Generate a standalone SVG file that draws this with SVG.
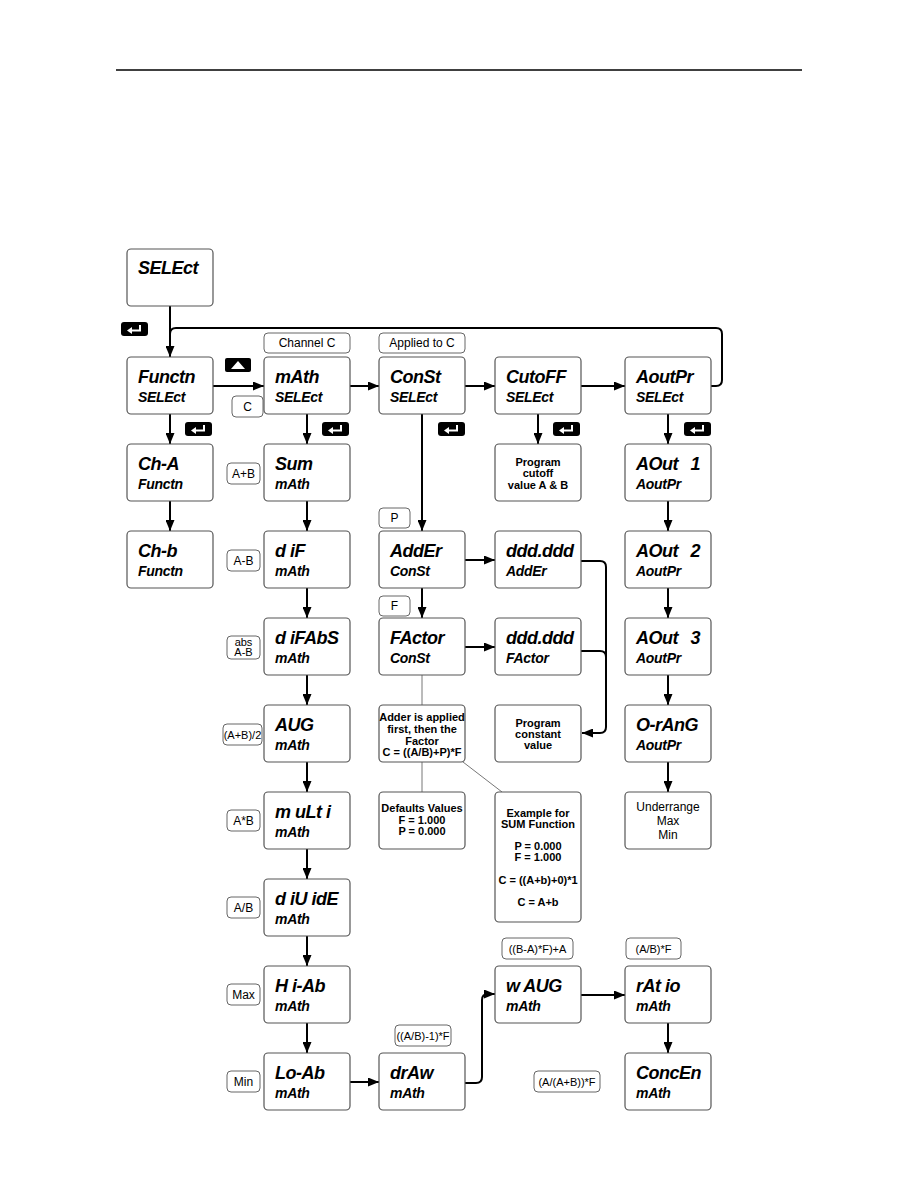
<svg xmlns="http://www.w3.org/2000/svg" xmlns:xlink="http://www.w3.org/1999/xlink" width="918" height="1188" viewBox="0 0 918 1188">
<style>
.box{fill:#fff;stroke:#555;stroke-width:1.2}
.pill{fill:#fff;stroke:#666;stroke-width:1}
.d1{font-family:"Liberation Sans",Arial,sans-serif;font-weight:bold;font-style:italic;font-size:18px;letter-spacing:-0.5px;fill:#000}
.d2{font-family:"Liberation Sans",Arial,sans-serif;font-weight:bold;font-style:italic;font-size:14px;letter-spacing:-0.3px;fill:#000}
.info{font-family:"Liberation Sans",Arial,sans-serif;font-weight:bold;font-size:11px;text-anchor:middle;fill:#000}
.pt{font-family:"Liberation Sans",Arial,sans-serif;font-size:12px;text-anchor:middle;fill:#000}
.ps{font-family:"Liberation Sans",Arial,sans-serif;font-size:11px;text-anchor:middle;fill:#000}
.conn{stroke:#000;stroke-width:2;fill:none}
.thin{stroke:#777;stroke-width:1;fill:none}
</style>
<defs>
<marker id="ah" markerUnits="userSpaceOnUse" markerWidth="11" markerHeight="9" refX="11" refY="4.5" orient="auto">
<path d="M0,0 L11,4.5 L0,9 z" fill="#000"/>
</marker>
<g id="enter"><rect width="27" height="14" rx="3" fill="#000"/><path d="M19,3 V8.5 H10" stroke="#fff" stroke-width="2" fill="none"/><path d="M6,8.5 L11,5 L11,12 z" fill="#fff"/></g>
<g id="up"><rect width="26" height="14" rx="2" fill="#000"/><path d="M13,3 L20,11 L6,11 z" fill="#fff"/></g>
</defs>
<rect width="918" height="1188" fill="#fff"/>
<line x1="116" y1="70" x2="802" y2="70" stroke="#000" stroke-width="1.5"/>

<g id="connectors">
<path class="conn" d="M170,306 V357" marker-end="url(#ah)"/>
<path class="conn" d="M711,386 H716 Q722,386 722,380 V334 Q722,328 716,328 H176 Q170,328 170,334"/>
<path class="conn" d="M213,386 H264" marker-end="url(#ah)"/>
<path class="conn" d="M350,386 H379" marker-end="url(#ah)"/>
<path class="conn" d="M465,386 H495" marker-end="url(#ah)"/>
<path class="conn" d="M581,386 H625" marker-end="url(#ah)"/>
<path class="conn" d="M170,414 V444" marker-end="url(#ah)"/>
<path class="conn" d="M170,501 V531" marker-end="url(#ah)"/>
<path class="conn" d="M307,414 V444" marker-end="url(#ah)"/>
<path class="conn" d="M307,501 V531" marker-end="url(#ah)"/>
<path class="conn" d="M307,588 V618" marker-end="url(#ah)"/>
<path class="conn" d="M307,675 V705" marker-end="url(#ah)"/>
<path class="conn" d="M307,762 V792" marker-end="url(#ah)"/>
<path class="conn" d="M307,849 V879" marker-end="url(#ah)"/>
<path class="conn" d="M307,936 V966" marker-end="url(#ah)"/>
<path class="conn" d="M307,1023 V1053" marker-end="url(#ah)"/>
<path class="conn" d="M422,414 V531" marker-end="url(#ah)"/>
<path class="conn" d="M422,588 V618" marker-end="url(#ah)"/>
<path class="thin" d="M422,675 V705"/>
<path class="thin" d="M422,762 V792"/>
<path class="thin" d="M463,762 L502,792"/>
<path class="conn" d="M538,414 V444" marker-end="url(#ah)"/>
<path class="conn" d="M465,560 H495" marker-end="url(#ah)"/>
<path class="conn" d="M465,647 H495" marker-end="url(#ah)"/>
<path class="conn" d="M581,561 H600 Q606,561 606,567 V727 Q606,733 600,733 H582" marker-end="url(#ah)"/>
<path class="conn" d="M581,651 H600 Q606,651 606,657"/>
<path class="conn" d="M668,414 V444" marker-end="url(#ah)"/>
<path class="conn" d="M668,501 V531" marker-end="url(#ah)"/>
<path class="conn" d="M668,588 V618" marker-end="url(#ah)"/>
<path class="conn" d="M668,675 V705" marker-end="url(#ah)"/>
<path class="conn" d="M668,762 V792" marker-end="url(#ah)"/>
<path class="conn" d="M350,1082 H379" marker-end="url(#ah)"/>
<path class="conn" d="M465,1083 H476 Q482,1083 482,1077 V1000 Q482,994 488,994 H495" marker-end="url(#ah)"/>
<path class="conn" d="M581,995 H625" marker-end="url(#ah)"/>
<path class="conn" d="M668,1023 V1053" marker-end="url(#ah)"/>
</g>

<g id="keys">
<use xlink:href="#enter" x="121" y="322"/>
<use xlink:href="#enter" x="185" y="422"/>
<use xlink:href="#enter" x="322" y="422"/>
<use xlink:href="#enter" x="438" y="422"/>
<use xlink:href="#enter" x="553" y="422"/>
<use xlink:href="#enter" x="684" y="422"/>
<use xlink:href="#up" x="225" y="358"/>
</g>

<g id="n-select"><rect class="box" x="127" y="249" width="86" height="57" rx="4"/><text class="d1" x="138" y="274">SELEct</text></g>
<g id="n-functn"><rect class="box" x="127" y="357" width="86" height="57" rx="4"/><text class="d1" x="138" y="383">Functn</text><text class="d2" x="138" y="402">SELEct</text></g>
<g id="n-cha"><rect class="box" x="127" y="444" width="86" height="57" rx="4"/><text class="d1" x="138" y="470">Ch-A</text><text class="d2" x="138" y="489">Functn</text></g>
<g id="n-chb"><rect class="box" x="127" y="531" width="86" height="57" rx="4"/><text class="d1" x="138" y="557">Ch-b</text><text class="d2" x="138" y="576">Functn</text></g>

<g id="n-math"><rect class="box" x="264" y="357" width="86" height="57" rx="4"/><text class="d1" x="275" y="383">mAth</text><text class="d2" x="275" y="402">SELEct</text></g>
<g id="n-sum"><rect class="box" x="264" y="444" width="86" height="57" rx="4"/><text class="d1" x="275" y="470">Sum</text><text class="d2" x="275" y="489">mAth</text></g>
<g id="n-dif"><rect class="box" x="264" y="531" width="86" height="57" rx="4"/><text class="d1" x="275" y="557">d iF</text><text class="d2" x="275" y="576">mAth</text></g>
<g id="n-difabs"><rect class="box" x="264" y="618" width="86" height="57" rx="4"/><text class="d1" x="275" y="644">d iFAbS</text><text class="d2" x="275" y="663">mAth</text></g>
<g id="n-avg"><rect class="box" x="264" y="705" width="86" height="57" rx="4"/><text class="d1" x="275" y="731">AUG</text><text class="d2" x="275" y="750">mAth</text></g>
<g id="n-multi"><rect class="box" x="264" y="792" width="86" height="57" rx="4"/><text class="d1" x="275" y="818">m uLt i</text><text class="d2" x="275" y="837">mAth</text></g>
<g id="n-divide"><rect class="box" x="264" y="879" width="86" height="57" rx="4"/><text class="d1" x="275" y="905">d iU idE</text><text class="d2" x="275" y="924">mAth</text></g>
<g id="n-hiab"><rect class="box" x="264" y="966" width="86" height="57" rx="4"/><text class="d1" x="275" y="992">H i-Ab</text><text class="d2" x="275" y="1011">mAth</text></g>
<g id="n-loab"><rect class="box" x="264" y="1053" width="86" height="57" rx="4"/><text class="d1" x="275" y="1079">Lo-Ab</text><text class="d2" x="275" y="1098">mAth</text></g>

<g id="n-const"><rect class="box" x="379" y="357" width="86" height="57" rx="4"/><text class="d1" x="390" y="383">ConSt</text><text class="d2" x="390" y="402">SELEct</text></g>
<g id="n-adder"><rect class="box" x="379" y="531" width="86" height="57" rx="4"/><text class="d1" x="390" y="557">AddEr</text><text class="d2" x="390" y="576">ConSt</text></g>
<g id="n-factor"><rect class="box" x="379" y="618" width="86" height="57" rx="4"/><text class="d1" x="390" y="644">FActor</text><text class="d2" x="390" y="663">ConSt</text></g>
<g id="n-note"><rect class="box" x="379" y="705" width="86" height="57" rx="4"/><text class="info" x="422" y="721">Adder is applied</text><text class="info" x="422" y="733">first, then the</text><text class="info" x="422" y="745">Factor</text><text class="info" x="422" y="756">C = ((A/B)+P)*F</text></g>
<g id="n-defaults"><rect class="box" x="379" y="792" width="86" height="57" rx="4"/><text class="info" x="422" y="812">Defaults Values</text><text class="info" x="422" y="824">F = 1.000</text><text class="info" x="422" y="835">P = 0.000</text></g>
<g id="n-draw"><rect class="box" x="379" y="1053" width="86" height="57" rx="4"/><text class="d1" x="390" y="1079">drAw</text><text class="d2" x="390" y="1098">mAth</text></g>

<g id="n-cutoff"><rect class="box" x="495" y="357" width="86" height="57" rx="4"/><text class="d1" x="506" y="383">CutoFF</text><text class="d2" x="506" y="402">SELEct</text></g>
<g id="n-progcut"><rect class="box" x="495" y="444" width="86" height="57" rx="4"/><text class="info" x="538" y="466">Program</text><text class="info" x="538" y="477">cutoff</text><text class="info" x="538" y="489">value A &amp; B</text></g>
<g id="n-dddadd"><rect class="box" x="495" y="531" width="86" height="57" rx="4"/><text class="d1" x="506" y="557">ddd.ddd</text><text class="d2" x="506" y="576">AddEr</text></g>
<g id="n-dddfac"><rect class="box" x="495" y="618" width="86" height="57" rx="4"/><text class="d1" x="506" y="644">ddd.ddd</text><text class="d2" x="506" y="663">FActor</text></g>
<g id="n-progconst"><rect class="box" x="495" y="705" width="86" height="57" rx="4"/><text class="info" x="538" y="727">Program</text><text class="info" x="538" y="738">constant</text><text class="info" x="538" y="749">value</text></g>
<g id="n-example"><rect class="box" x="495" y="792" width="86" height="130" rx="4"/><text class="info" x="538" y="817">Example for</text><text class="info" x="538" y="828">SUM Function</text><text class="info" x="538" y="850">P = 0.000</text><text class="info" x="538" y="861">F = 1.000</text><text class="info" x="538" y="884">C = ((A+b)+0)*1</text><text class="info" x="538" y="906">C = A+b</text></g>
<g id="n-wavg"><rect class="box" x="495" y="966" width="86" height="57" rx="4"/><text class="d1" x="506" y="992">w AUG</text><text class="d2" x="506" y="1011">mAth</text></g>

<g id="n-aoutpr"><rect class="box" x="625" y="357" width="86" height="57" rx="4"/><text class="d1" x="636" y="383">AoutPr</text><text class="d2" x="636" y="402">SELEct</text></g>
<g id="n-aout1"><rect class="box" x="625" y="444" width="86" height="57" rx="4"/><text class="d1" x="636" y="470">AOut</text><text class="d1" x="700" y="470" text-anchor="end">1</text><text class="d2" x="636" y="489">AoutPr</text></g>
<g id="n-aout2"><rect class="box" x="625" y="531" width="86" height="57" rx="4"/><text class="d1" x="636" y="557">AOut</text><text class="d1" x="700" y="557" text-anchor="end">2</text><text class="d2" x="636" y="576">AoutPr</text></g>
<g id="n-aout3"><rect class="box" x="625" y="618" width="86" height="57" rx="4"/><text class="d1" x="636" y="644">AOut</text><text class="d1" x="700" y="644" text-anchor="end">3</text><text class="d2" x="636" y="663">AoutPr</text></g>
<g id="n-orang"><rect class="box" x="625" y="705" width="86" height="57" rx="4"/><text class="d1" x="636" y="731">O-rAnG</text><text class="d2" x="636" y="750">AoutPr</text></g>
<g id="n-under"><rect class="box" x="625" y="792" width="86" height="57" rx="4"/><text class="pt" x="668" y="811">Underrange</text><text class="pt" x="668" y="825">Max</text><text class="pt" x="668" y="839">Min</text></g>
<g id="n-ratio"><rect class="box" x="625" y="966" width="86" height="57" rx="4"/><text class="d1" x="636" y="992">rAt io</text><text class="d2" x="636" y="1011">mAth</text></g>
<g id="n-concen"><rect class="box" x="625" y="1053" width="86" height="57" rx="4"/><text class="d1" x="636" y="1079">ConcEn</text><text class="d2" x="636" y="1098">mAth</text></g>

<g id="labels">
<rect class="pill" x="264" y="333" width="86" height="20" rx="4"/><text class="pt" x="307" y="347">Channel C</text>
<rect class="pill" x="379" y="333" width="86" height="20" rx="4"/><text class="pt" x="422" y="347">Applied to C</text>
<rect class="pill" x="232" y="396" width="31" height="21" rx="4"/><text class="pt" x="247.5" y="411">C</text>
<rect class="pill" x="227" y="463" width="33" height="21" rx="4"/><text class="pt" x="243.5" y="478">A+B</text>
<rect class="pill" x="227" y="550" width="33" height="21" rx="4"/><text class="pt" x="243.5" y="565">A-B</text>
<rect class="pill" x="227" y="636" width="33" height="23" rx="4"/><text class="ps" x="243.5" y="646">abs</text><text class="ps" x="243.5" y="656">A-B</text>
<rect class="pill" x="223" y="724" width="39" height="21" rx="4"/><text class="ps" x="242.5" y="739">(A+B)/2</text>
<rect class="pill" x="227" y="810" width="33" height="21" rx="4"/><text class="pt" x="243.5" y="825">A*B</text>
<rect class="pill" x="227" y="897" width="33" height="21" rx="4"/><text class="pt" x="243.5" y="912">A/B</text>
<rect class="pill" x="227" y="984" width="33" height="21" rx="4"/><text class="pt" x="243.5" y="999">Max</text>
<rect class="pill" x="227" y="1071" width="33" height="21" rx="4"/><text class="pt" x="243.5" y="1086">Min</text>
<rect class="pill" x="379" y="508" width="31" height="20" rx="4"/><text class="pt" x="394.5" y="522">P</text>
<rect class="pill" x="379" y="596" width="31" height="20" rx="4"/><text class="pt" x="394.5" y="610">F</text>
<rect class="pill" x="395" y="1025" width="56" height="21" rx="4"/><text class="ps" x="423" y="1040">((A/B)-1)*F</text>
<rect class="pill" x="502" y="938" width="71" height="21" rx="4"/><text class="ps" x="537.5" y="953">((B-A)*F)+A</text>
<rect class="pill" x="626" y="938" width="55" height="21" rx="4"/><text class="ps" x="653.5" y="953">(A/B)*F</text>
<rect class="pill" x="534" y="1071" width="66" height="21" rx="4"/><text class="ps" x="567" y="1086">(A/(A+B))*F</text>
</g>
</svg>
